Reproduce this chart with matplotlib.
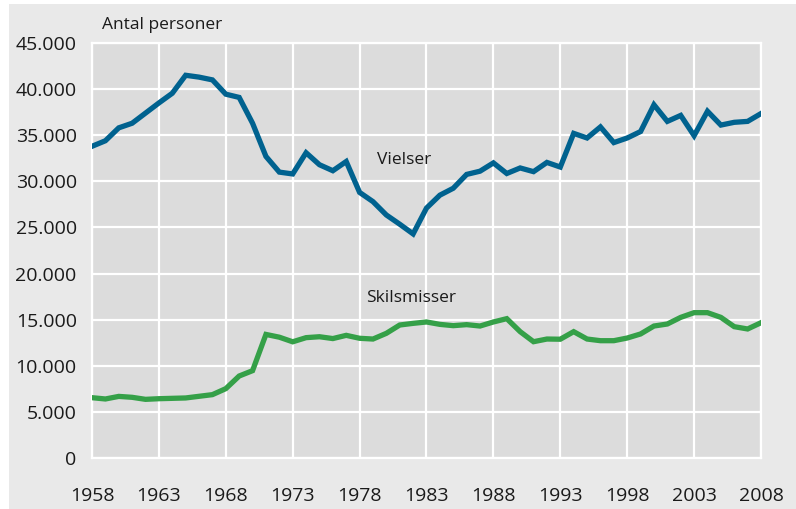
import matplotlib
matplotlib.use("Agg")
import matplotlib.pyplot as plt
from matplotlib.patches import Rectangle
from matplotlib.ticker import FuncFormatter

plt.rcParams['font.family'] = ['Open Sans', 'DejaVu Sans']

years = list(range(1958, 2009))

# Vielser (marriages)
vielser = [33800, 34400, 35800, 36300, 37400, 38500, 39550, 41500, 41300, 41000,
           39450, 39100, 36300, 32700, 31000, 30800, 33100, 31800, 31150, 32150,
           28800, 27800, 26350, 25350, 24300, 27100, 28500, 29250, 30750, 31100,
           32000, 30850, 31450, 31050, 32050, 31550, 35200, 34700, 35900, 34200,
           34700, 35400, 38300, 36500, 37150, 34950, 37600, 36100, 36400, 36500,
           37350]

# Skilsmisser (divorces)
skilsmisser = [6540, 6400, 6680, 6580, 6360, 6430, 6470, 6510, 6690, 6870,
               7520, 8890, 9470, 13400, 13100, 12600, 13050, 13150, 12950, 13300,
               12980, 12900, 13520, 14420, 14600, 14750, 14490, 14350, 14460, 14310,
               14750, 15110, 13700, 12610, 12900, 12880, 13700, 12900, 12720, 12720,
               13010, 13450, 14310, 14530, 15250, 15760, 15760, 15250, 14240, 13990,
               14670]

x_ticks = list(range(1958, 2009, 5))
y_ticks = list(range(0, 45001, 5000))

blue = '#00628f'
green = '#35a048'

fig = plt.figure(figsize=(7.96, 5.09), dpi=100, facecolor='white')
# grey panel behind the chart (thin white margin at top/left like the original)
fig.patches.append(Rectangle((9 / 796, 0), 1 - 9 / 796, 1 - 4 / 509,
                             transform=fig.transFigure, facecolor='#e9e9e9',
                             edgecolor='none', zorder=-10))

ax = fig.add_axes([92 / 796, 51 / 509, (761 - 92) / 796, (458 - 43) / 509])
ax.set_facecolor('#dcdcdc')

ax.plot(years, vielser, color=blue, lw=3.8, solid_joinstyle='miter', zorder=3)
ax.plot(years, skilsmisser, color=green, lw=3.8, solid_joinstyle='miter', zorder=3)

ax.set_xlim(1958, 2008)
ax.set_ylim(0, 45000)
ax.set_xticks(x_ticks)
ax.set_yticks(y_ticks)
ax.yaxis.set_major_formatter(FuncFormatter(lambda v, p: '0' if v == 0 else f'{int(v):,}'.replace(',', '.')))

ax.grid(True, color='white', lw=1.6, zorder=1)
ax.set_axisbelow(True)
for s in ax.spines.values():
    s.set_color('white')
    s.set_linewidth(1.6)

ax.tick_params(length=0, labelsize=14, colors='#1a1a1a')
ax.tick_params(axis='y', pad=11)
ax.tick_params(axis='x', pad=21)

ax.text(102 / 796, 1 - 25 / 509, 'Antal personer', transform=fig.transFigure,
        fontsize=12.5, ha='left', va='center', color='#1a1a1a')
ax.text(1979.3, 32300, 'Vielser', fontsize=12.5, ha='left', va='center', color='#1a1a1a')
ax.text(1978.5, 17350, 'Skilsmisser', fontsize=12.5, ha='left', va='center', color='#1a1a1a')

fig.savefig('out.png', dpi=100, facecolor=fig.get_facecolor())
